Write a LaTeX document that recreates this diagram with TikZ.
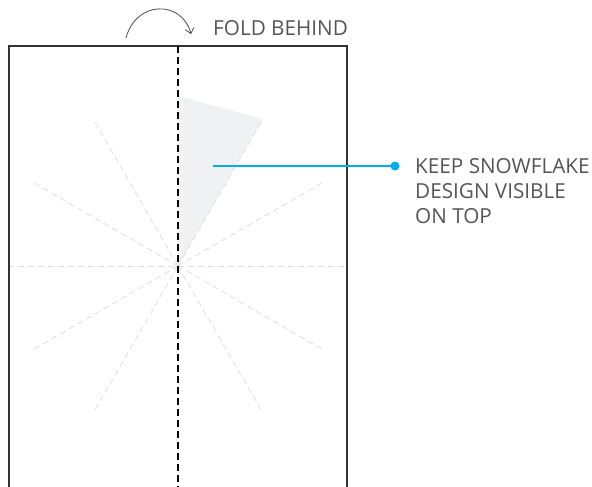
\documentclass[tikz,border=0pt]{standalone}
\usepackage{fontspec}
\setmainfont{Open Sans}
\usetikzlibrary{arrows.meta}
\definecolor{txt}{HTML}{555555}
\definecolor{cyanline}{HTML}{00AEEF}
\definecolor{wedge}{HTML}{F0F1F2}
\definecolor{ray}{HTML}{DDDDDD}
\tikzset{
  ray/.style={draw=ray, line width=0.8pt, dash pattern=on 6pt off 4pt},
  label/.style={font=\fontsize{20.7}{25}\selectfont, text=txt, inner sep=0pt, anchor=north west, align=left},
}
\begin{document}
\begin{tikzpicture}[x=1pt,y=-1pt]
\useasboundingbox (0,0) rectangle (592,487);
\coordinate (c) at (178,266);
% wedge
\fill[wedge] (c) -- (178,96) -- (263,119) -- cycle;
% rays
\foreach \a in {30,60,120,150,210,240,300,330}{
  \draw[ray] (c) -- ++(\a:170 and -170);
}
\draw[ray] (8,266) -- (348,266);
% paper
\draw[line width=2pt, draw=black!80] (9,487) -- (9,46) -- (347,46) -- (347,487);
% fold line
\draw[line width=2pt, dash pattern=on 7pt off 4pt] (178,46) -- (178,487);
% fold arrow
\coordinate (a1) at (126,38);
\coordinate (a2) at (191,34);
\draw[line width=0.8pt, draw=black!70, -{Straight Barb[length=5pt,width=9pt]}] (a1) .. controls (136,0) and (182,0) .. (a2);
\node[label, anchor=west] (fold) at (213,28) {FOLD BEHIND};
% leader
\coordinate (p) at (213,166);
\node[circle, fill=cyanline, minimum size=9pt, inner sep=0pt] (dot) at (395,166) {};
\draw[cyanline, line width=1.3pt] (p) -- (dot.center);
\node[label, anchor=west] (keep) at (415,191) {KEEP SNOWFLAKE\\DESIGN VISIBLE\\ON TOP};
\end{tikzpicture}
\end{document}
